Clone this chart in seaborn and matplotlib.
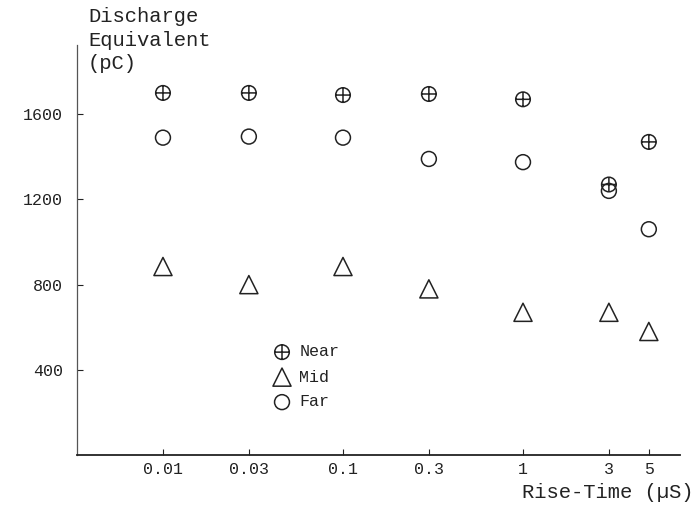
import numpy as np
import pandas as pd
import matplotlib
matplotlib.use("Agg")
import matplotlib.pyplot as plt
from matplotlib.path import Path
import seaborn as sns

rise_time = [0.01, 0.03, 0.1, 0.3, 1, 3, 5]
tick_labels = ["0.01", "0.03", "0.1", "0.3", "1", "3", "5"]
near = [1700, 1700, 1690, 1695, 1670, 1270, 1470]
mid = [885, 800, 885, 780, 670, 670, 580]
far = [1490, 1495, 1490, 1390, 1375, 1240, 1060]
y_ticks = [400, 800, 1200, 1600]

sns.set_style("ticks")
plt.rcParams["font.family"] = ["Liberation Mono", "DejaVu Sans Mono"]
ink = "#222222"

# circle with a cross through it
oplus = Path.make_compound_path(
    Path.unit_circle(),
    Path([[-1, 0], [1, 0]], [Path.MOVETO, Path.LINETO]),
    Path([[0, -1], [0, 1]], [Path.MOVETO, Path.LINETO]),
)

df = pd.DataFrame({
    "rise": rise_time * 3,
    "q": near + mid + far,
    "series": ["Near"] * 7 + ["Mid"] * 7 + ["Far"] * 7,
})
markers = {"Near": oplus, "Mid": "^", "Far": "o"}
sizes = {"Near": 110, "Mid": 170, "Far": 115}

fig = plt.figure(figsize=(6.99, 5.08), dpi=100)
ax = fig.add_axes([77 / 699, 1 - 455 / 508, (680 - 77) / 699, (455 - 45) / 508])

for name in ["Near", "Mid", "Far"]:
    sub = df[df["series"] == name]
    sns.scatterplot(data=sub, x="rise", y="q", marker=markers[name], s=sizes[name],
                    facecolor="none", edgecolor=ink, linewidth=1.1, label=name, ax=ax)

ax.set_xscale("log")
ax.set_xlim(0.00333, 7.45)
ax.set_ylim(0, 1925)
ax.set_xticks(rise_time)
ax.set_xticklabels(tick_labels)
ax.xaxis.set_minor_locator(matplotlib.ticker.NullLocator())
ax.set_yticks(y_ticks)
ax.tick_params(direction="in", length=4, width=0.8, colors=ink, labelsize=12)
ax.tick_params(axis="x", pad=5)
ax.tick_params(axis="y", pad=10)
ax.set_xlabel("")
ax.set_ylabel("")

sns.despine(ax=ax)
ax.spines["left"].set_color("#555555")
ax.spines["left"].set_linewidth(0.9)
ax.spines["bottom"].set_color(ink)
ax.spines["bottom"].set_linewidth(1.3)

fig.text(88 / 699, 1 - 7 / 508, "Discharge\nEquivalent\n(pC)", ha="left", va="top",
         fontsize=14.8, color=ink, linespacing=1.3)
fig.text(694 / 699, 1 - 493 / 508, "Rise-Time (\u00b5S)", ha="right", va="center",
         fontsize=14.8, color=ink)

ax.legend(loc="center left", bbox_to_anchor=(272 / 699, 1 - 377 / 508),
          bbox_transform=fig.transFigure, frameon=False, fontsize=12,
          handlelength=1.2, handletextpad=0.45, labelspacing=0.6,
          borderpad=0, borderaxespad=0, labelcolor=ink)

fig.savefig("out.png", dpi=100)
